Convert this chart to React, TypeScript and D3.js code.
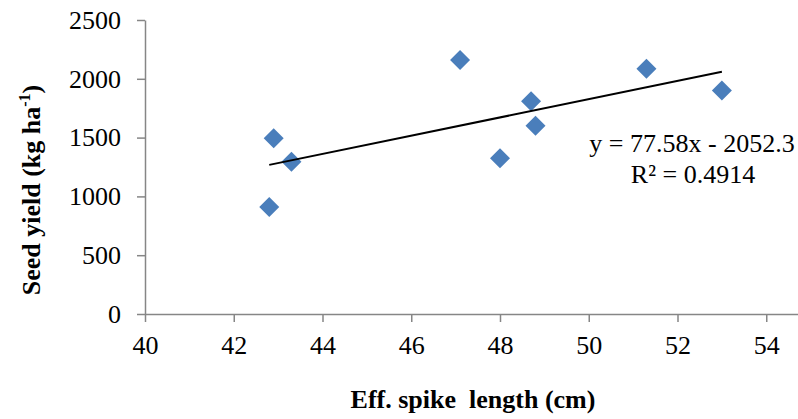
import React, { useEffect, useRef } from 'react';
import * as d3 from 'd3';

// spike length (cm) vs seed yield (kg/ha)
const spikeLength = [42.8, 42.9, 43.3, 47.1, 48.0, 48.7, 48.8, 51.3, 53.0];
const seedYield = [910, 1495, 1295, 2160, 1325, 1810, 1600, 2085, 1900];
const xTicks = [40, 42, 44, 46, 48, 50, 52, 54];
const yTicks = [0, 500, 1000, 1500, 2000, 2500];
const slope = 77.58;
const intercept = -2052.3;
const eqLabel = 'y = 77.58x - 2052.3';
const r2Label = 'R² = 0.4914';

const W = 798, H = 419;
const FONT = '"Liberation Serif", "Times New Roman", serif';
const AXIS = '#868686';
const BLUE = '#4a7ebb';

export default function App() {
  const ref = useRef<SVGSVGElement | null>(null);

  useEffect(() => {
    const svg = d3.select(ref.current);
    svg.selectAll('*').remove();

    const x = d3.scaleLinear().domain([40, 56]).range([145, 855]);
    const y = d3.scaleLinear().domain([0, 2500]).range([314, 20]);

    // axes
    const gx = svg.append('g').attr('transform', `translate(0,${y(0)})`)
      .call(d3.axisBottom(x).tickValues(xTicks).tickFormat(d3.format('d')).tickSize(8).tickSizeOuter(0).tickPadding(14));
    gx.select('.domain').attr('stroke', AXIS).attr('stroke-width', 1.5);
    gx.selectAll('line').attr('stroke', AXIS).attr('stroke-width', 1.5);
    gx.selectAll('text').attr('font-family', FONT).attr('font-size', 26).attr('fill', '#000');

    const gy = svg.append('g').attr('transform', `translate(${x(40)},0)`)
      .call(d3.axisLeft(y).tickValues(yTicks).tickFormat(d3.format('d')).tickSize(8).tickSizeOuter(0).tickPadding(16));
    gy.select('.domain').attr('stroke', AXIS).attr('stroke-width', 1.5);
    gy.selectAll('line').attr('stroke', AXIS).attr('stroke-width', 1.5);
    gy.selectAll('text').attr('font-family', FONT).attr('font-size', 26).attr('fill', '#000');

    // points
    const diamond = d3.symbol().type(d3.symbolSquare).size(200);
    svg.append('g').selectAll('path').data(spikeLength).enter().append('path')
      .attr('d', diamond)
      .attr('transform', (d, i) => `translate(${x(d)},${y(seedYield[i])}) rotate(45)`)
      .attr('fill', BLUE);

    // linear trend over the data range
    const [x0, x1] = d3.extent(spikeLength) as [number, number];
    const trend = [x0, x1].map(v => ({ x: v, y: slope * v + intercept }));
    svg.append('path').datum(trend)
      .attr('d', d3.line<{ x: number; y: number }>().x(d => x(d.x)).y(d => y(d.y)))
      .attr('fill', 'none').attr('stroke', '#000').attr('stroke-width', 2);

    svg.append('text').attr('x', 692).attr('y', 152).attr('text-anchor', 'middle')
      .attr('font-family', FONT).attr('font-size', 26).text(eqLabel);
    svg.append('text').attr('x', 693).attr('y', 183).attr('text-anchor', 'middle')
      .attr('font-family', FONT).attr('font-size', 26).text(r2Label);

    // axis titles
    svg.append('text').attr('x', 473).attr('y', 408).attr('text-anchor', 'middle')
      .attr('font-family', FONT).attr('font-size', 26).attr('font-weight', 'bold')
      .attr('xml:space', 'preserve').text('Eff. spike  length (cm)');

    const yt = svg.append('text').attr('transform', 'translate(40,190) rotate(-90)')
      .attr('text-anchor', 'middle').attr('font-family', FONT).attr('font-size', 26).attr('font-weight', 'bold');
    yt.append('tspan').text('Seed yield (kg ha');
    yt.append('tspan').attr('font-size', 16).attr('dy', -10).text('-1');
    yt.append('tspan').attr('dy', 10).text(')');
  }, []);

  return (
    <div style={{ position: 'fixed', left: 0, top: 0, width: W, height: H, background: '#fff' }}>
      <svg ref={ref} width={W} height={H} style={{ display: 'block' }} />
    </div>
  );
}
